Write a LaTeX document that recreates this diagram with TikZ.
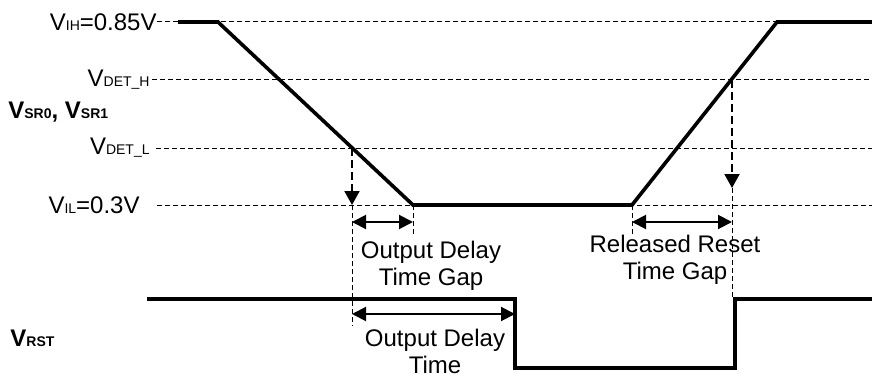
\documentclass[tikz,border=0pt]{standalone}
\usepackage{fontspec}
\setmainfont{Liberation Sans}
\usetikzlibrary{arrows.meta}
\usetikzlibrary{positioning}

\newcommand{\volt}[2]{#1{\fontsize{7}{8}\selectfont #2}}

\tikzset{
  lbl/.style={inner sep=0pt, font=\fontsize{12}{13.5}\selectfont},
  note/.style={lbl, align=center},
  grid/.style={line width=0.5pt, dash pattern=on 2.5pt off 1.5pt},
  wave/.style={line width=1.8pt, line join=miter},
  drop/.style={line width=1pt, dash pattern=on 4pt off 2pt, -{Triangle[length=7pt,width=7.5pt]}},
  span/.style={line width=1pt, {Triangle[length=7pt,width=7pt]}-{Triangle[length=7pt,width=7pt]}}
}

\begin{document}
\begin{tikzpicture}[x=0.5pt, y=-0.5pt]
  \useasboundingbox (0,0) rectangle (872,374);

  % Define nodes
  \node[lbl, anchor=east] (lbl_ih) at (157,22) {\volt{V}{IH}=0.85V};
  \node[lbl, anchor=east] (lbl_deth) at (150,80) {\volt{V}{DET\_H}};
  \node[lbl, anchor=east] (lbl_detl) at (150,148) {\volt{V}{DET\_L}};
  \node[lbl, anchor=east] (lbl_il) at (140,205) {\volt{V}{IL}=0.3V};
  \node[lbl, anchor=west, font=\fontsize{12}{13.5}\selectfont\bfseries] (lbl_sr) at (8,112) {\volt{V}{SR0}, \volt{V}{SR1}};
  \node[lbl, anchor=west, font=\fontsize{12}{13.5}\selectfont\bfseries] (lbl_rst) at (10,338) {\volt{V}{RST}};

  \coordinate (end_ih) at (872,22);
  \coordinate (end_deth) at (872,80);
  \coordinate (end_detl) at (872,148);
  \coordinate (start_il) at (157,205);
  \coordinate (end_il) at (872,205);

  % input waveform
  \coordinate (sr_start) at (178,22);
  \coordinate (fall_top) at (218,22);
  \coordinate (fall_det) at (352,148);
  \coordinate (fall_bot) at (413,205);
  \coordinate (rise_bot) at (632,205);
  \coordinate (rise_det) at (732,80);
  \coordinate (rise_top) at (777,22);
  \coordinate (sr_end) at (872,22);

  % reset output
  \coordinate (rst_start) at (147,299);
  \coordinate (rst_fall) at (515,299);
  \coordinate (rst_low_a) at (515,368);
  \coordinate (rst_low_b) at (735,368);
  \coordinate (rst_rise) at (735,299);
  \coordinate (rst_end) at (872,299);

  % Connect nodes
  \draw[grid] (lbl_ih.east) -- (end_ih);
  \draw[grid] ([xshift=1pt]lbl_deth.east) -- (end_deth);
  \draw[grid] ([xshift=3pt]lbl_detl.east) -- (end_detl);
  \draw[grid] (start_il) -- (end_il);

  \draw[wave] (sr_start) -- (fall_top) -- (fall_bot) -- (rise_bot) -- (rise_top) -- (sr_end);
  \draw[wave] (rst_start) -- (rst_fall) -- (rst_low_a) -- (rst_low_b) -- (rst_rise) -- (rst_end);

  \coordinate (det_l_tip) at (352,205);
  \coordinate (det_l_foot) at (352,326);
  \coordinate (il_foot) at (413,236);
  \coordinate (det_h_tip) at (732,188);
  \coordinate (det_h_foot) at (732,298);
  \coordinate (rb_foot) at (632,234);

  \draw[drop] (fall_det) -- (det_l_tip);
  \draw[grid] (det_l_tip) -- (det_l_foot);
  \draw[grid] (fall_bot) -- (il_foot);
  \draw[drop] (rise_det) -- (det_h_tip);
  \draw[grid] (det_h_tip) -- (det_h_foot);
  \draw[grid] (rise_bot) -- (rb_foot);

  % Time spans
  \draw[span] (352,222) coordinate (gap_a) -- (413,222) coordinate (gap_b);
  \draw[span] (632,222) coordinate (rel_a) -- (732,222) coordinate (rel_b);
  \draw[span] (352,314) coordinate (dly_a) -- (515,314) coordinate (dly_b);

  \node[note] (txt_gap) at (431,266) {Output Delay\\Time Gap};
  \node[note] (txt_rel) at (675,260) {Released Reset\\Time Gap};
  \node[note] (txt_dly) at (435,351) {Output Delay\\Time};

\end{tikzpicture}
\end{document}
